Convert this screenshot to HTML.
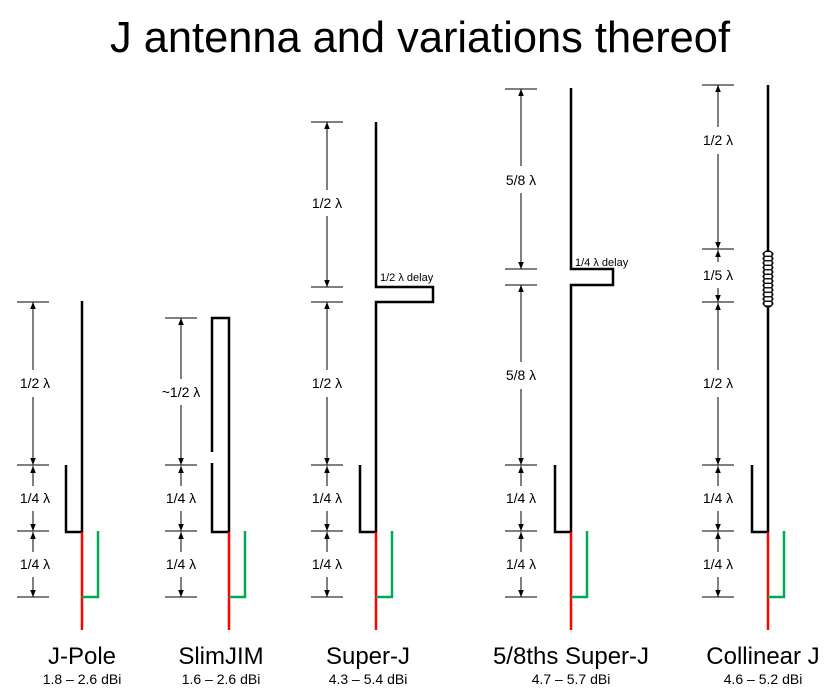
<!DOCTYPE html>
<html><head><meta charset="utf-8"><style>
html,body{margin:0;padding:0;background:#fff;}
svg{display:block;font-family:"Liberation Sans",sans-serif;}
</style></head><body>
<svg width="839" height="697" viewBox="0 0 839 697" xmlns="http://www.w3.org/2000/svg">
<defs>
<marker id="a" viewBox="0 0 10 10" refX="10" refY="5" markerWidth="7" markerHeight="7" orient="auto-start-reverse" markerUnits="userSpaceOnUse">
<path d="M0,1 L10,5 L0,9 z" fill="#000"/>
</marker>
</defs>
<rect width="839" height="697" fill="#fff"/>
<text x="420" y="52" font-size="44" text-anchor="middle" textLength="620" lengthAdjust="spacingAndGlyphs">J antenna and variations thereof</text>

<g stroke="#000" stroke-width="1">
<!-- J-Pole dims x=33 -->
<path d="M17 302H49M17 465H49M17 531H49M17 597H49"/>
<line x1="33" y1="302" x2="33" y2="370" marker-start="url(#a)"/>
<line x1="33" y1="465" x2="33" y2="397" marker-start="url(#a)"/>
<line x1="33" y1="466" x2="33" y2="486" marker-start="url(#a)"/>
<line x1="33" y1="531" x2="33" y2="511" marker-start="url(#a)"/>
<line x1="33" y1="532" x2="33" y2="552" marker-start="url(#a)"/>
<line x1="33" y1="597" x2="33" y2="577" marker-start="url(#a)"/>
<!-- SlimJIM dims x=181 -->
<path d="M165 318H197M165 465H197M165 531H197M165 597H197"/>
<line x1="181" y1="318" x2="181" y2="379" marker-start="url(#a)"/>
<line x1="181" y1="465" x2="181" y2="405" marker-start="url(#a)"/>
<line x1="181" y1="466" x2="181" y2="486" marker-start="url(#a)"/>
<line x1="181" y1="531" x2="181" y2="511" marker-start="url(#a)"/>
<line x1="181" y1="532" x2="181" y2="552" marker-start="url(#a)"/>
<line x1="181" y1="597" x2="181" y2="577" marker-start="url(#a)"/>
<!-- Super-J dims x=327 -->
<path d="M311 122H343M311 287H343M311 302H343M311 465H343M311 531H343M311 597H343"/>
<line x1="327" y1="122" x2="327" y2="190" marker-start="url(#a)"/>
<line x1="327" y1="287" x2="327" y2="216" marker-start="url(#a)"/>
<line x1="327" y1="302" x2="327" y2="370" marker-start="url(#a)"/>
<line x1="327" y1="465" x2="327" y2="397" marker-start="url(#a)"/>
<line x1="327" y1="466" x2="327" y2="486" marker-start="url(#a)"/>
<line x1="327" y1="531" x2="327" y2="511" marker-start="url(#a)"/>
<line x1="327" y1="532" x2="327" y2="552" marker-start="url(#a)"/>
<line x1="327" y1="597" x2="327" y2="577" marker-start="url(#a)"/>
<!-- 5/8 Super-J dims x=521 -->
<path d="M505 89H537M505 269H537M505 285H537M505 465H537M505 531H537M505 597H537"/>
<line x1="521" y1="89" x2="521" y2="166" marker-start="url(#a)"/>
<line x1="521" y1="269" x2="521" y2="193" marker-start="url(#a)"/>
<line x1="521" y1="285" x2="521" y2="362" marker-start="url(#a)"/>
<line x1="521" y1="465" x2="521" y2="389" marker-start="url(#a)"/>
<line x1="521" y1="466" x2="521" y2="486" marker-start="url(#a)"/>
<line x1="521" y1="531" x2="521" y2="511" marker-start="url(#a)"/>
<line x1="521" y1="532" x2="521" y2="552" marker-start="url(#a)"/>
<line x1="521" y1="597" x2="521" y2="577" marker-start="url(#a)"/>
<!-- Collinear dims x=718 -->
<path d="M702 85H734M702 249H734M702 302H734M702 465H734M702 531H734M702 597H734"/>
<line x1="718" y1="85" x2="718" y2="127" marker-start="url(#a)"/>
<line x1="718" y1="249" x2="718" y2="154" marker-start="url(#a)"/>
<line x1="718" y1="250" x2="718" y2="262" marker-start="url(#a)"/>
<line x1="718" y1="302" x2="718" y2="288" marker-start="url(#a)"/>
<line x1="718" y1="303" x2="718" y2="370" marker-start="url(#a)"/>
<line x1="718" y1="465" x2="718" y2="397" marker-start="url(#a)"/>
<line x1="718" y1="466" x2="718" y2="486" marker-start="url(#a)"/>
<line x1="718" y1="531" x2="718" y2="511" marker-start="url(#a)"/>
<line x1="718" y1="532" x2="718" y2="552" marker-start="url(#a)"/>
<line x1="718" y1="597" x2="718" y2="577" marker-start="url(#a)"/>
</g>

<g font-size="14" text-anchor="middle" fill="#000">
<text x="35" y="388">1/2 λ</text><text x="35" y="503">1/4 λ</text><text x="35" y="569">1/4 λ</text>
<text x="181" y="397">~1/2 λ</text><text x="181" y="503">1/4 λ</text><text x="181" y="569">1/4 λ</text>
<text x="327" y="208">1/2 λ</text><text x="327" y="388">1/2 λ</text><text x="327" y="503">1/4 λ</text><text x="327" y="569">1/4 λ</text>
<text x="521" y="185">5/8 λ</text><text x="521" y="380">5/8 λ</text><text x="521" y="503">1/4 λ</text><text x="521" y="569">1/4 λ</text>
<text x="718" y="145">1/2 λ</text><text x="718" y="280">1/5 λ</text><text x="718" y="388">1/2 λ</text><text x="718" y="503">1/4 λ</text><text x="718" y="569">1/4 λ</text>
</g>
<g font-size="11" fill="#000">
<text x="380" y="281">1/2 λ delay</text>
<text x="575" y="266">1/4 λ delay</text>
</g>

<g fill="none" stroke="#000" stroke-width="2.5">
<path d="M82 301V532H66V465"/>
<path d="M229 532V318H212V452M212 463V532H229"/>
<path d="M376 122V287H433V302H376V532H360V465"/>
<path d="M571 88V269H613V285H571V532H555V465"/>
<path d="M768 85V251M768 307V532H752V465"/>
</g>
<g fill="none" stroke="#000" stroke-width="1">
<rect x="764" y="251" width="8" height="56" rx="3"/>
<ellipse cx="768" cy="254" rx="5" ry="2.5"/><ellipse cx="768" cy="258.5" rx="5" ry="2.5"/><ellipse cx="768" cy="263" rx="5" ry="2.5"/><ellipse cx="768" cy="267.5" rx="5" ry="2.5"/><ellipse cx="768" cy="272" rx="5" ry="2.5"/><ellipse cx="768" cy="276.5" rx="5" ry="2.5"/><ellipse cx="768" cy="281" rx="5" ry="2.5"/><ellipse cx="768" cy="285.5" rx="5" ry="2.5"/><ellipse cx="768" cy="290" rx="5" ry="2.5"/><ellipse cx="768" cy="294.5" rx="5" ry="2.5"/><ellipse cx="768" cy="299" rx="5" ry="2.5"/><ellipse cx="768" cy="303.5" rx="5" ry="2.5"/>
</g>
<g fill="none" stroke="#f00" stroke-width="2.5">
<path d="M82 532V630M229 532V630M376 532V630M571 532V630M768 532V630"/>
</g>
<g fill="none" stroke="#0a5" stroke-width="2.5">
<path d="M98 531V597H82M245 531V597H229M392 531V597H376M587 531V597H571M784 531V597H768"/>
</g>

<g text-anchor="middle" fill="#000">
<text x="82" y="664" font-size="24">J-Pole</text>
<text x="82" y="684" font-size="14">1.8 – 2.6 dBi</text>
<text x="221" y="664" font-size="24">SlimJIM</text>
<text x="221" y="684" font-size="14">1.6 – 2.6 dBi</text>
<text x="368" y="664" font-size="24">Super-J</text>
<text x="368" y="684" font-size="14">4.3 – 5.4 dBi</text>
<text x="571" y="664" font-size="24">5/8ths Super-J</text>
<text x="571" y="684" font-size="14">4.7 – 5.7 dBi</text>
<text x="763" y="664" font-size="24">Collinear J</text>
<text x="763" y="684" font-size="14">4.6 – 5.2 dBi</text>
</g>
</svg>
</body></html>
